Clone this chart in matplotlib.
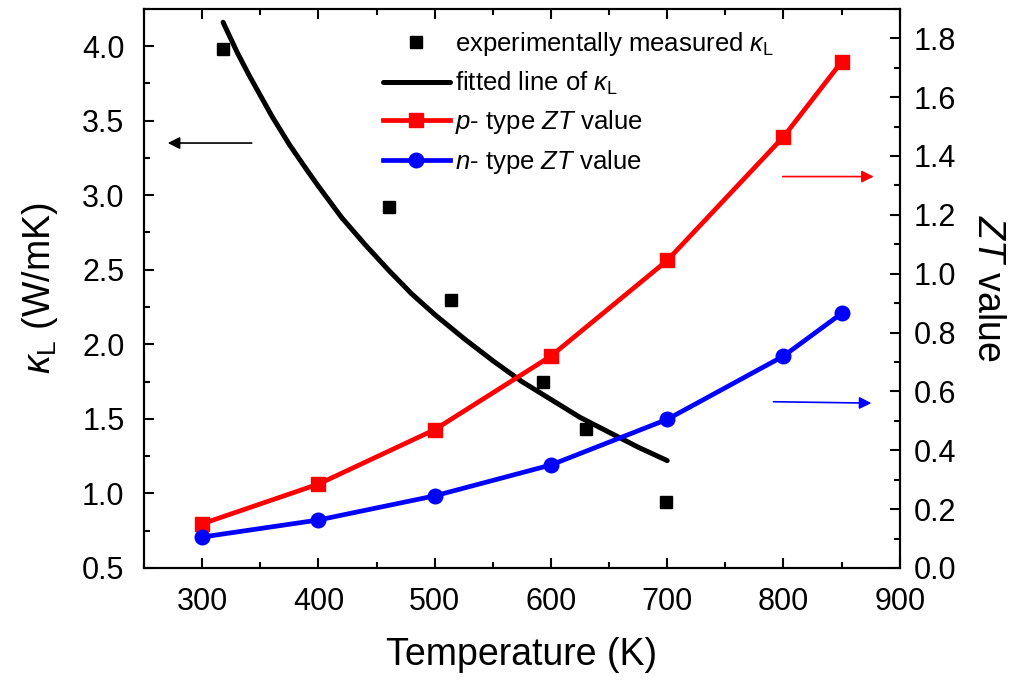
import matplotlib
matplotlib.use('Agg')
import matplotlib.pyplot as plt
from matplotlib.ticker import MultipleLocator

plt.rcParams['font.family'] = ['Liberation Sans', 'DejaVu Sans']
plt.rcParams['mathtext.fontset'] = 'custom'
plt.rcParams['mathtext.rm'] = 'Liberation Sans'
plt.rcParams['mathtext.it'] = 'Liberation Sans:italic'

# measured lattice thermal conductivity (left axis)
meas_T = [318, 461, 514, 593, 630, 699]
meas_kappa = [3.98, 2.92, 2.30, 1.75, 1.43, 0.94]

# fitted curve of kappa_L
fit_T = [318, 330, 340, 350, 360, 375, 390, 400, 420, 440, 460, 480,
         500, 525, 550, 575, 600, 625, 650, 675, 700]
fit_kappa = [4.16, 3.96, 3.81, 3.67, 3.53, 3.34, 3.17, 3.06, 2.85, 2.67, 2.50, 2.34,
             2.20, 2.04, 1.89, 1.75, 1.63, 1.51, 1.41, 1.31, 1.22]

# ZT values (right axis)
zt_T = [300, 400, 500, 600, 700, 800, 850]
zt_p = [0.15, 0.285, 0.47, 0.72, 1.045, 1.465, 1.72]
zt_n = [0.105, 0.163, 0.245, 0.35, 0.505, 0.72, 0.865]

fig = plt.figure(figsize=(10.31, 6.81), dpi=100)
ax = fig.add_axes([0.1397, 0.166, 0.733, 0.821])
ax2 = ax.twinx()

h1, = ax.plot(meas_T, meas_kappa, 's', color='black', ms=9, linestyle='none',
              label=r'experimentally measured $\kappa_{\mathrm{L}}$')
h2, = ax.plot(fit_T, fit_kappa, '-', color='black', lw=3.6,
              solid_capstyle='round', label=r'fitted line of $\kappa_{\mathrm{L}}$')
h3, = ax2.plot(zt_T, zt_p, '-s', color='#ff0000', lw=3.4, ms=10,
               label=r'$p$- type $ZT$ value')
h4, = ax2.plot(zt_T, zt_n, '-o', color='#0000ff', lw=3.4, ms=10.5,
               label=r'$n$- type $ZT$ value')

ax.set_xlim(250, 900)
ax.set_ylim(0.5, 4.25)
ax2.set_ylim(0, 1.9)

ax.xaxis.set_major_locator(MultipleLocator(100))
ax.xaxis.set_minor_locator(MultipleLocator(50))
ax.yaxis.set_major_locator(MultipleLocator(0.5))
ax.yaxis.set_minor_locator(MultipleLocator(0.25))
ax2.yaxis.set_major_locator(MultipleLocator(0.2))
ax2.yaxis.set_minor_locator(MultipleLocator(0.1))
ax.yaxis.set_major_formatter(plt.FormatStrFormatter('%.1f'))
ax2.yaxis.set_major_formatter(plt.FormatStrFormatter('%.1f'))

ax.tick_params(which='both', direction='in', top=True, labelsize=22, width=1.5)
ax.tick_params(which='major', length=7.5)
ax.tick_params(which='minor', length=4.5)
ax.tick_params(axis='x', which='both', pad=14)
ax.tick_params(axis='y', which='both', pad=14)
ax2.tick_params(which='both', direction='in', labelsize=22, width=1.5, pad=10)
ax2.tick_params(which='major', length=7.5)
ax2.tick_params(which='minor', length=4.5)
for a in (ax, ax2):
    for s in a.spines.values():
        s.set_linewidth(1.5)

ax.set_xlabel('Temperature (K)', fontsize=27, labelpad=14)
ax.set_ylabel(r'$\kappa_{\mathrm{L}}$ (W/mK)', fontsize=27, labelpad=16)
ax2.set_ylabel(r'$ZT$ value', fontsize=27, rotation=270, va='bottom', labelpad=10)

# direction arrows
ax.annotate('', xy=(268, 3.35), xytext=(345, 3.35),
            arrowprops=dict(arrowstyle='-|>', color='black', lw=1.2, mutation_scale=18))
ax2.annotate('', xy=(880, 1.33), xytext=(797, 1.33),
             arrowprops=dict(arrowstyle='-|>', color='#ff0000', lw=1.2, mutation_scale=18))
ax2.annotate('', xy=(878, 0.56), xytext=(789, 0.565),
             arrowprops=dict(arrowstyle='-|>', color='#0000ff', lw=1.2, mutation_scale=18))

ax2.legend(handles=[h1, h2, h3, h4], loc='upper left', bbox_to_anchor=(0.316, 0.962),
           frameon=False, fontsize=18.5, handlelength=2.6, handletextpad=0.2,
           labelspacing=0.45, borderaxespad=0, borderpad=0)

fig.savefig('out.png', dpi=100)
